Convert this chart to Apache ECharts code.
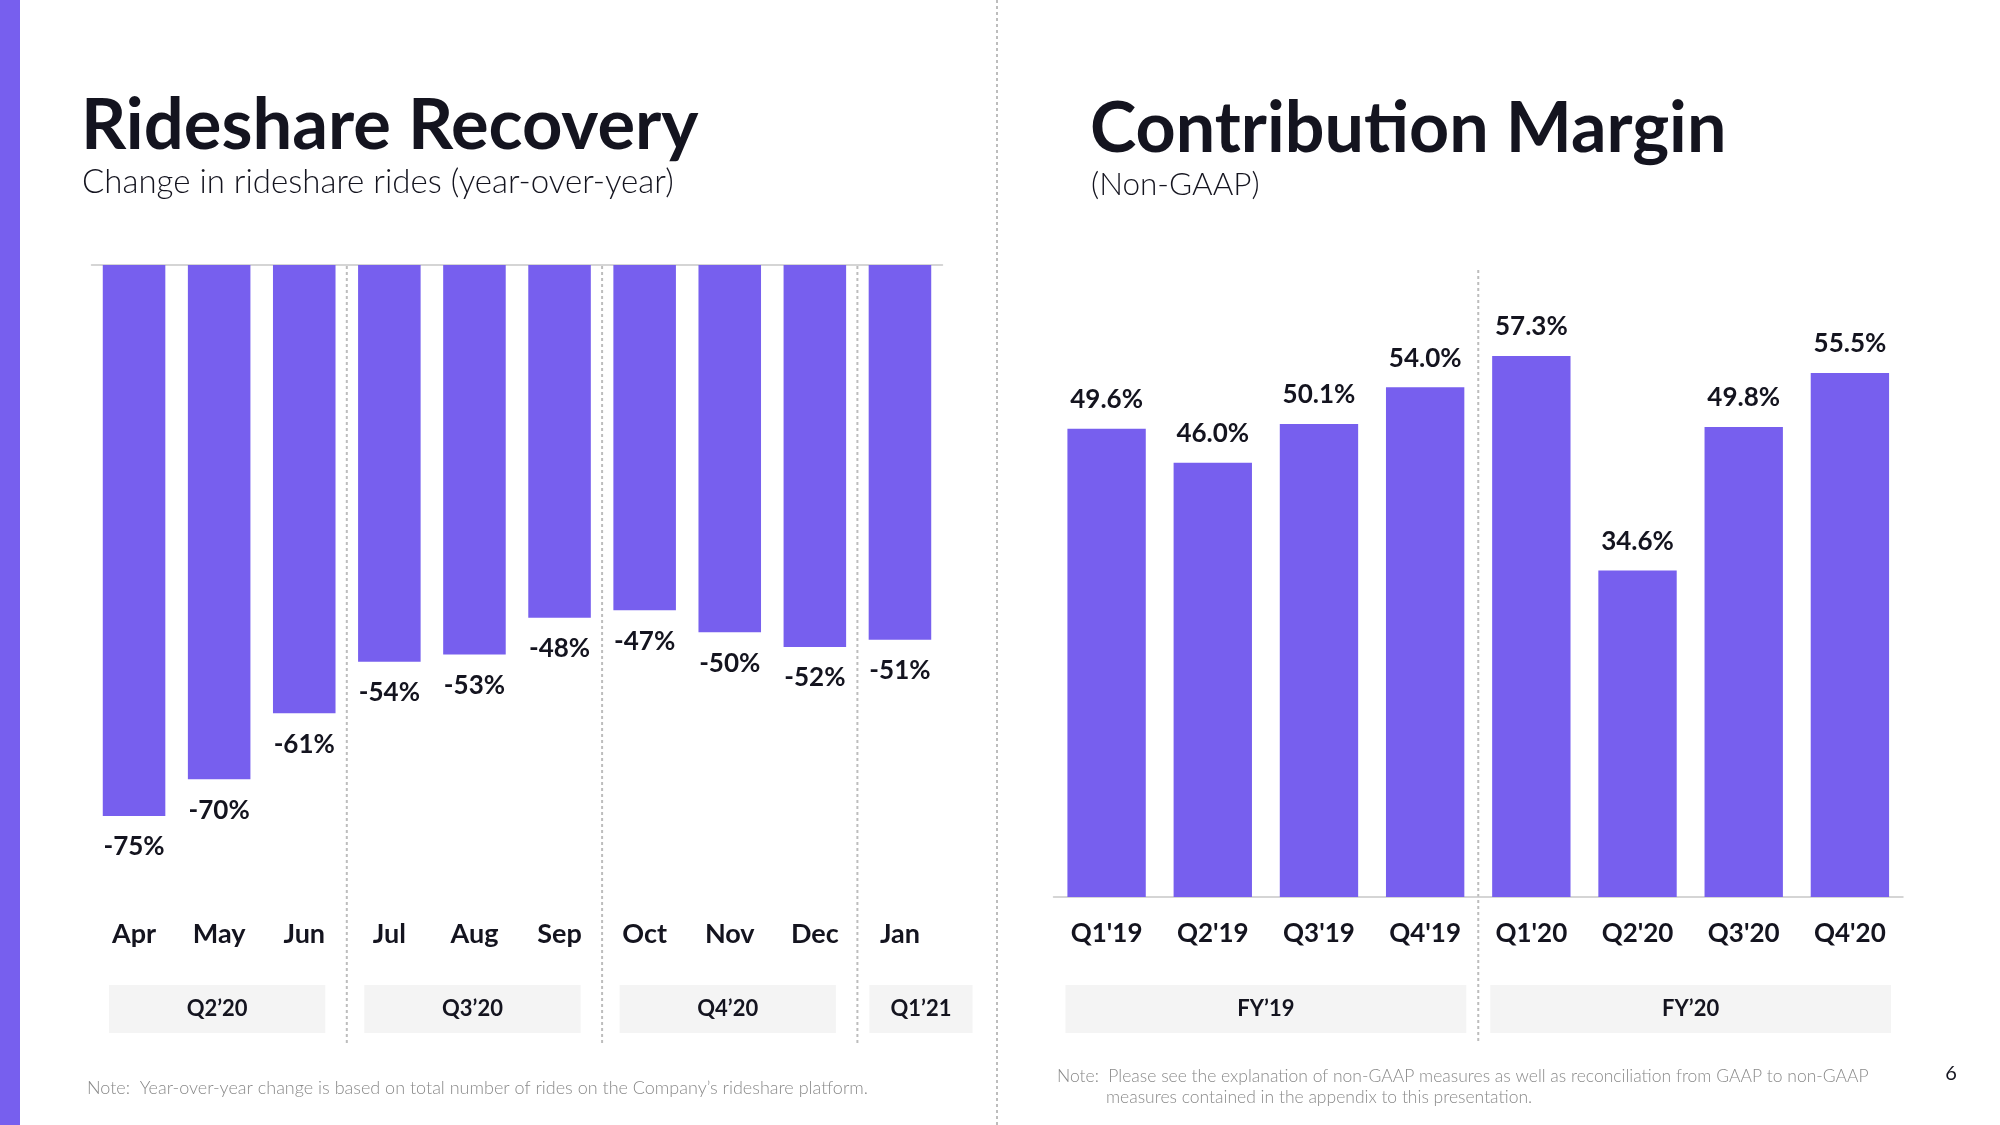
<!DOCTYPE html>
<html>
<head>
<meta charset="utf-8">
<script src="https://cdn.jsdelivr.net/npm/echarts@6/dist/echarts.min.js"></script>
<style>
  html, body { margin: 0; padding: 0; background: #ffffff; }
  #chart { width: 2000px; height: 1125px; }
</style>
</head>
<body>
<div id="chart"></div>
<script>
// ---- Data ----
const months = ['Apr', 'May', 'Jun', 'Jul', 'Aug', 'Sep', 'Oct', 'Nov', 'Dec', 'Jan'];
const rideChange = [-75, -70, -61, -54, -53, -48, -47, -50, -52, -51];
const quarterLabels = ['Q2’20', 'Q3’20', 'Q4’20', 'Q1’21'];
const quarterSpans = [[0, 2], [3, 5], [6, 8], [9, 9]];

const cmQuarters = ["Q1'19", "Q2'19", "Q3'19", "Q4'19", "Q1'20", "Q2'20", "Q3'20", "Q4'20"];
const cmValues = [49.6, 46.0, 50.1, 54.0, 57.3, 34.6, 49.8, 55.5];
const fyLabels = ['FY’19', 'FY’20'];
const fySpans = [[0, 3], [4, 7]];

// ---- Style ----
const PURPLE = '#775FEE';
const INK = '#14141f';
const FONT = 'Lato, "Open Sans", sans-serif';
const BOX = '#f4f4f4';
const DOT = '#bdbdbd';

const chart = echarts.init(document.getElementById('chart'), null, { renderer: 'canvas' });

const option = {
  animation: false,
  backgroundColor: '#ffffff',
  textStyle: { fontFamily: FONT },
  grid: [
    { left: 91.5, width: 851, top: 265, height: 624.5 },
    { left: 1053.5, width: 849.5, top: 330.6, height: 566.4 }
  ],
  xAxis: [
    { // left: month labels at bottom
      type: 'category', gridIndex: 0, data: months, position: 'bottom',
      axisLine: { show: false }, axisTick: { show: false }, splitLine: { show: false },
      axisLabel: { margin: 31, fontSize: 27, fontWeight: 'bold', color: INK, fontFamily: FONT }
    },
    { // left: zero line at top
      type: 'category', gridIndex: 0, data: months, position: 'top',
      axisLine: { show: true, lineStyle: { color: '#c8c8c8', width: 1.5 } },
      axisTick: { show: false }, axisLabel: { show: false }
    },
    { // right
      type: 'category', gridIndex: 1, data: cmQuarters, position: 'bottom',
      axisLine: { show: true, lineStyle: { color: '#c8c8c8', width: 1.5 } },
      axisTick: { show: false },
      axisLabel: { margin: 24, fontSize: 26, fontWeight: 'bold', color: INK, fontFamily: FONT }
    }
  ],
  yAxis: [
    { type: 'value', gridIndex: 0, min: -85, max: 0, show: false },
    { type: 'value', gridIndex: 1, min: 0, max: 60, show: false }
  ],
  series: [
    {
      type: 'bar', xAxisIndex: 0, yAxisIndex: 0, data: rideChange,
      barWidth: '73.5%',
      itemStyle: { color: PURPLE },
      label: {
        show: true, position: 'bottom', distance: 18,
        formatter: p => p.value + '%',
        fontSize: 26, fontWeight: 'bold', color: INK, fontFamily: FONT
      }
    },
    {
      type: 'bar', xAxisIndex: 2, yAxisIndex: 1, data: cmValues,
      barWidth: '73.8%',
      itemStyle: { color: PURPLE },
      label: {
        show: true, position: 'top', distance: 16,
        formatter: p => p.value.toFixed(1) + '%',
        fontSize: 26, fontWeight: 'bold', color: INK, fontFamily: FONT
      }
    }
  ]
};
chart.setOption(option);

// ---- Decorations computed from the axes ----
function catX(axisIndex, i) { return chart.convertToPixel({ xAxisIndex: axisIndex }, i); }
function catStep(axisIndex) { return catX(axisIndex, 1) - catX(axisIndex, 0); }

const g = [];
// left stripe
g.push({ type: 'rect', shape: { x: 0, y: 0, width: 20, height: 1125 }, style: { fill: PURPLE }, silent: true });
// middle dotted divider
g.push({ type: 'line', shape: { x1: 997, y1: 0, x2: 997, y2: 1125 }, style: { stroke: DOT, lineWidth: 2, lineDash: [3, 3] }, silent: true });

// titles
g.push({ type: 'text', left: 81, top: 91, style: { text: 'Rideshare Recovery', font: `bold 70.5px ${FONT}`, fill: INK } });
g.push({ type: 'text', left: 82, top: 166, style: { text: 'Change in rideshare rides (year-over-year)', font: `300 33px ${FONT}`, fill: INK } });
g.push({ type: 'text', left: 1090, top: 94, style: { text: 'Contribution Margin', font: `bold 70px ${FONT}`, fill: INK } });
g.push({ type: 'text', left: 1091, top: 169, style: { text: '(Non-GAAP)', font: `300 31.5px ${FONT}`, fill: INK } });

// left: quarter separators and boxes
const stepL = catStep(0);
quarterSpans.forEach((s, k) => {
  const left = catX(0, s[0]) - stepL / 2;
  const right = catX(0, s[1]) + stepL / 2;
  if (k > 0) {
    g.push({ type: 'line', shape: { x1: left, y1: 266, x2: left, y2: 1043 }, style: { stroke: DOT, lineWidth: 2, lineDash: [3, 3] }, silent: true });
  }
  let bx, bw;
  if (s[1] > s[0]) { bw = right - left - 39; bx = (left + right) / 2 - bw / 2 - 2; }
  else { bx = left + 12; bw = stepL + 18; }
  g.push({ type: 'rect', shape: { x: bx, y: 985, width: bw, height: 48 }, style: { fill: BOX }, silent: true });
  g.push({ type: 'text', x: bx + bw / 2, y: 1009, style: { text: quarterLabels[k], font: `bold 22px ${FONT}`, fill: INK, align: 'center', verticalAlign: 'middle' } });
});

// right: fiscal-year separator and boxes
const stepR = catStep(2);
fySpans.forEach((s, k) => {
  const left = catX(2, s[0]) - stepR / 2;
  const right = catX(2, s[1]) + stepR / 2;
  if (k > 0) {
    g.push({ type: 'line', shape: { x1: left, y1: 270, x2: left, y2: 1043 }, style: { stroke: DOT, lineWidth: 2, lineDash: [3, 3] }, silent: true });
  }
  const bx = left + 12, bw = right - left - 24;
  g.push({ type: 'rect', shape: { x: bx, y: 985, width: bw, height: 48 }, style: { fill: BOX }, silent: true });
  g.push({ type: 'text', x: bx + bw / 2, y: 1009, style: { text: fyLabels[k], font: `bold 22px ${FONT}`, fill: INK, align: 'center', verticalAlign: 'middle' } });
});

// notes
g.push({ type: 'text', left: 87, top: 1079, style: { text: 'Note:  Year-over-year change is based on total number of rides on the Company’s rideshare platform.', font: `300 18px ${FONT}`, fill: '#8a8a8a' } });
g.push({ type: 'text', left: 1057, top: 1067, style: { text: 'Note:  Please see the explanation of non-GAAP measures as well as reconciliation from GAAP to non-GAAP', font: `300 17.5px ${FONT}`, fill: '#8a8a8a' } });
g.push({ type: 'text', left: 1106, top: 1088, style: { text: 'measures contained in the appendix to this presentation.', font: `300 17.5px ${FONT}`, fill: '#8a8a8a' } });
// page number
g.push({ type: 'text', x: 1951, y: 1074, style: { text: '6', font: `20px ${FONT}`, fill: INK, align: 'center', verticalAlign: 'middle' } });

chart.setOption({ graphic: g });
</script>
</body>
</html>
